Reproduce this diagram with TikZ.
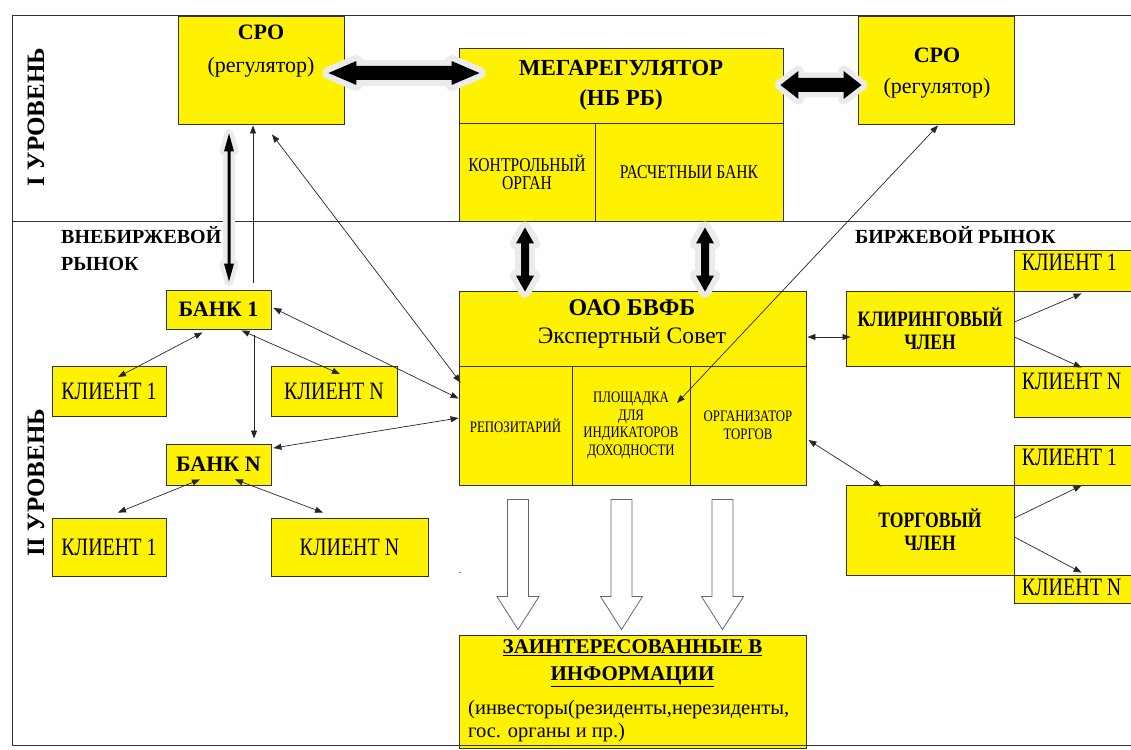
\documentclass[tikz,border=0pt]{standalone}
\usepackage{fontspec}
\setmainfont{Liberation Serif}
\newfontfamily\condf{Liberation Serif}[FakeStretch=0.8]
\usetikzlibrary{calc,arrows.meta}
\newcommand\fsz[2]{\fontsize{#1}{#2}\selectfont}
% horizontal block double arrow: #1 left tip, #2 right tip, #3 shaft half, #4 head half, #5 head length, #6 halo
\newcommand\hdarrow[6]{%
 \path[draw=gray!16,line width=#6,line join=round] (#1) -- ($(#1)+(#5,-#4)$) -- ($(#1)+(#5,-#3)$) -- ($(#2)+(-#5,-#3)$) -- ($(#2)+(-#5,-#4)$) -- (#2) -- ($(#2)+(-#5,#4)$) -- ($(#2)+(-#5,#3)$) -- ($(#1)+(#5,#3)$) -- ($(#1)+(#5,#4)$) -- cycle;
 \path[fill=black] (#1) -- ($(#1)+(#5,-#4)$) -- ($(#1)+(#5,-#3)$) -- ($(#2)+(-#5,-#3)$) -- ($(#2)+(-#5,-#4)$) -- (#2) -- ($(#2)+(-#5,#4)$) -- ($(#2)+(-#5,#3)$) -- ($(#1)+(#5,#3)$) -- ($(#1)+(#5,#4)$) -- cycle;}
% vertical block double arrow: #1 top tip, #2 bottom tip
\newcommand\vdarrow[6]{%
 \path[draw=gray!16,line width=#6,line join=round] (#1) -- ($(#1)+(#4,#5)$) -- ($(#1)+(#3,#5)$) -- ($(#2)+(#3,-#5)$) -- ($(#2)+(#4,-#5)$) -- (#2) -- ($(#2)+(-#4,-#5)$) -- ($(#2)+(-#3,-#5)$) -- ($(#1)+(-#3,#5)$) -- ($(#1)+(-#4,#5)$) -- cycle;
 \path[fill=black] (#1) -- ($(#1)+(#4,#5)$) -- ($(#1)+(#3,#5)$) -- ($(#2)+(#3,-#5)$) -- ($(#2)+(#4,-#5)$) -- (#2) -- ($(#2)+(-#4,-#5)$) -- ($(#2)+(-#3,-#5)$) -- ($(#1)+(-#3,#5)$) -- ($(#1)+(-#4,#5)$) -- cycle;}
% hollow down arrow: #1 shaft top centre, #2 tip
\newcommand\wdarrow[5]{%
 \path[draw=black!60,fill=white,line width=0.8pt,line join=miter] ($(#1)+(-#3,0)$) -- ($(#1)+(#3,0)$) -- ($(#2)+(#3,-#5)$) -- ($(#2)+(#4,-#5)$) -- (#2) -- ($(#2)+(-#4,-#5)$) -- ($(#2)+(-#3,-#5)$) -- cycle;}
\tikzset{
 ybox/.style={draw=black!80, fill=yellow, line width=0.9pt, inner sep=0pt, align=center},
 txt/.style={inner sep=0pt, align=center},
 frame/.style={draw=black!80, line width=0.9pt},
 conn/.style={draw=black!85, line width=0.7pt},
 arr/.style={conn, -{Triangle[length=8pt,width=6pt]}},
 darr/.style={conn, {Triangle[length=8pt,width=6pt]}-{Triangle[length=8pt,width=6pt]}},
}
\begin{document}
\begin{tikzpicture}[x=1pt,y=-1pt]
\useasboundingbox (0,0) rectangle (1131,749);
% frame
\draw[frame] (12,15) -- (1140,15);
\draw[frame] (12,15) -- (12,745);
\draw[frame] (12,221) -- (1140,221);
% level labels
\node[txt, rotate=90, font=\bfseries\fsz{25}{28}] (lev1) at (36,117) {I УРОВЕНЬ};
\node[txt, rotate=90, font=\bfseries\fsz{25}{28}] (lev2) at (36,483) {II УРОВЕНЬ};
\node[txt, align=left, anchor=west, font=\bfseries\fsz{20}{27}] (otc) at (61,248.5) {ВНЕБИРЖЕВОЙ\\РЫНОК};
\node[txt, anchor=west, font=\bfseries\fsz{20}{24}] (exch) at (855,235) {БИРЖЕВОЙ РЫНОК};
% level I boxes
\node[ybox, minimum width=166, minimum height=108] (sroL) at (261,70) {};
\node[txt, font=\bfseries\fsz{22}{24}] (sroLt1) at (261,32) {СРО};
\node[txt, font=\fsz{22}{24}] (sroLt2) at (261,67) {(регулятор)};
\node[ybox, minimum width=324, minimum height=75, font=\bfseries\fsz{23}{30}] (megaTop) at (621,85.5) {МЕГАРЕГУЛЯТОР\\(НБ РБ)};
\node[ybox, minimum width=136, minimum height=98, font=\condf\fsz{19.5}{18}] (kontr) at (527,172) {КОНТРОЛЬНЫЙ\\ОРГАН};
\node[ybox, minimum width=188, minimum height=98, font=\condf\fsz{19.5}{18}] (rasch) at (689,172) {РАСЧЕТНЫИ БАНК};
\node[ybox, minimum width=156, minimum height=108] (sroR) at (936,70) {};
\node[txt, font=\bfseries\fsz{22}{24}] (sroRt1) at (937,55) {СРО};
\node[txt, font=\fsz{22}{24}] (sroRt2) at (937,88) {(регулятор)};
% OTC market
\node[ybox, minimum width=105, minimum height=39, font=\bfseries\fsz{22}{24}] (bank1) at (218.5,309.5) {БАНК 1};
\node[ybox, minimum width=105, minimum height=41, font=\bfseries\fsz{22}{24}] (bankN) at (218.5,464.5) {БАНК N};
\node[ybox, minimum width=114, minimum height=50, font=\condf\fsz{25}{26}] (kl1) at (109,391.5) {КЛИЕНТ 1};
\node[ybox, minimum width=126, minimum height=50, font=\condf\fsz{25}{26}] (klN) at (334,391.5) {КЛИЕНТ N};
\node[ybox, minimum width=114, minimum height=58, font=\condf\fsz{25}{26}] (kl1b) at (109,547) {КЛИЕНТ 1};
\node[ybox, minimum width=157, minimum height=58, font=\condf\fsz{25}{26}] (klNb) at (349.5,547) {КЛИЕНТ N};
% exchange
\node[ybox, minimum width=347, minimum height=75] (oaoTop) at (632.5,328.5) {};
\node[txt, font=\bfseries\fsz{24}{26}] (oaoT1) at (632,308) {ОАО БВФБ};
\node[txt, font=\fsz{23.6}{26}] (oaoT2) at (632,338) {Экспертный Совет};
\node[ybox, minimum width=113, minimum height=119, font=\condf\fsz{16}{18}] (repo) at (515.5,425.5) {РЕПОЗИТАРИЙ};
\node[ybox, minimum width=118, minimum height=119, font=\condf\fsz{16}{17.5}] (plosh) at (631,425.5) {ПЛОЩАДКА\\ДЛЯ\\ИНДИКАТОРОВ\\ДОХОДНОСТИ};
\node[ybox, minimum width=116, minimum height=119, font=\condf\fsz{16}{18}] (org) at (748,425.5) {ОРГАНИЗАТОР\\ТОРГОВ};
\node[ybox, minimum width=168, minimum height=75, font=\bfseries\condf\fsz{22}{23}] (klir) at (930,328.5) {КЛИРИНГОВЫЙ\\ЧЛЕН};
\node[ybox, minimum width=168, minimum height=90, font=\bfseries\condf\fsz{22}{23}] (torg) at (930,530) {ТОРГОВЫЙ\\ЧЛЕН};
\node[ybox, minimum width=136, minimum height=41] (kr1) at (1082,270.5) {};
\node[ybox, minimum width=136, minimum height=51] (krN) at (1082,391.5) {};
\node[ybox, minimum width=136, minimum height=40] (kr1b) at (1082,465) {};
\node[ybox, minimum width=136, minimum height=28] (krNb) at (1082,589) {};
\node[txt, anchor=west, font=\condf\fsz{25}{26}] (kr1t) at ($(kr1.north west)+(8,13)$) {КЛИЕНТ 1};
\node[txt, anchor=west, font=\condf\fsz{25}{26}] (krNt) at ($(krN.north west)+(8,16)$) {КЛИЕНТ N};
\node[txt, anchor=west, font=\condf\fsz{25}{26}] (kr1bt) at ($(kr1b.north west)+(8,13)$) {КЛИЕНТ 1};
\node[txt, anchor=west, font=\condf\fsz{25}{26}] (krNbt) at ($(krNb.north west)+(8,13)$) {КЛИЕНТ N};
% interested parties
\node[ybox, minimum width=347, minimum height=113] (zaint) at (632.5,691.5) {};
\node[txt, font=\bfseries\fsz{21}{27}] (zt1) at (632.5,663.5) {\underline{ЗАИНТЕРЕСОВАННЫЕ В}\\\underline{ИНФОРМАЦИИ}};
\node[txt, anchor=west, font=\fsz{20.5}{23}] (zt2) at (468,710) {(инвесторы(резиденты,нерезиденты,};
\node[txt, anchor=west, font=\fsz{20.5}{23}] (zt3) at (468,733) {гос. органы и пр.)};
\node[txt, font=\fsz{10}{10}] (dot) at (460,573) {.};
% block arrows
\coordinate (a1l) at ($(sroL.east)+(-16,3)$);
\coordinate (a1r) at ($(megaTop.west)+(21,-12.5)$);
\hdarrow{a1l}{a1r}{7}{12}{28}{12pt}
\coordinate (a2l) at ($(megaTop.east)+(-3,-0.5)$);
\coordinate (a2r) at ($(sroR.west)+(4,15)$);
\hdarrow{a2l}{a2r}{7}{14}{18}{11pt}
\coordinate (a3t) at ($(kontr.south)+(-2,6)$);
\coordinate (a3b) at ($(oaoTop.north)+(-107.5,1)$);
\vdarrow{a3t}{a3b}{4}{9}{16}{12pt}
\coordinate (a4t) at ($(rasch.south)+(16,6)$);
\coordinate (a4b) at ($(oaoTop.north)+(72.5,1)$);
\vdarrow{a4t}{a4b}{4}{9}{16}{12pt}
\coordinate (a5t) at ($(sroL.south)+(-32,9)$);
\coordinate (a5b) at ($(bank1.north)+(10.5,-8)$);
\vdarrow{a5t}{a5b}{1.5}{5}{18}{9pt}
% hollow arrows
\coordinate (w1t) at ($(repo.south)+(2.5,14)$);
\coordinate (w1b) at ($(zaint.north)+(-114.5,-5)$);
\coordinate (w2t) at ($(plosh.south)+(-9.5,14)$);
\coordinate (w2b) at ($(zaint.north)+(-11,-5)$);
\coordinate (w3t) at ($(org.south)+(-25.5,14)$);
\coordinate (w3b) at ($(zaint.north)+(90,-5)$);
\wdarrow{w1t}{w1b}{10.5}{21}{33}
\wdarrow{w2t}{w2b}{10.5}{21}{33}
\wdarrow{w3t}{w3b}{10.5}{21}{33}
% thin connectors
\draw[darr] ($(bank1.south)+(-16,3)$) -- ($(kl1.north)+(9,11)$);
\draw[darr] ($(bank1.south)+(23,1)$) -- ($(klN.north)+(6,8)$);
\draw[arr] ($(bank1.south)+(35.5,6)$) -- ($(bankN.north)+(35.5,-5)$);
\draw[darr] ($(bank1.east)+(2,-1.5)$) -- ($(repo.west)+(0,-27)$);
\draw[darr] ($(sroL.south)+(11,10)$) -- ($(repo.north west)+(2,17)$);
\draw[arr] ($(bank1.north)+(34.5,-7)$) -- ($(sroL.south)+(-8,1)$);
\draw[darr] ($(bankN.east)+(2,-16.5)$) -- ($(repo.west)+(0,-7.5)$);
\draw[darr] ($(bankN.south)+(-18.5,-6)$) -- ($(kl1b.north)+(9,-5)$);
\draw[darr] ($(bankN.south)+(16.5,-6)$) -- ($(klNb.north)+(-26.5,-5)$);
\draw[darr] ($(sroR.south)+(2,1)$) -- ($(plosh.center)+(46,-22.5)$);
\draw[darr] ($(oaoTop.east)+(1,8.5)$) -- ($(klir.west)+(5,8.5)$);
\draw[darr] ($(org.east)+(2,14.5)$) -- ($(torg.north west)+(36,2)$);
\draw[arr] ($(klir.east)+(0,-6.5)$) -- ($(kr1.south west)+(68,2)$);
\draw[arr] ($(klir.east)+(0,8.5)$) -- ($(krN.north west)+(68,2)$);
\draw[arr] ($(torg.east)+(0,-12)$) -- ($(kr1b.south west)+(68,0)$);
\draw[arr] ($(torg.east)+(0,7)$) -- ($(krNb.north west)+(68,-2)$);
% bottom frame line
\draw[frame] (12,745) -- (1140,745);
\end{tikzpicture}
\end{document}
